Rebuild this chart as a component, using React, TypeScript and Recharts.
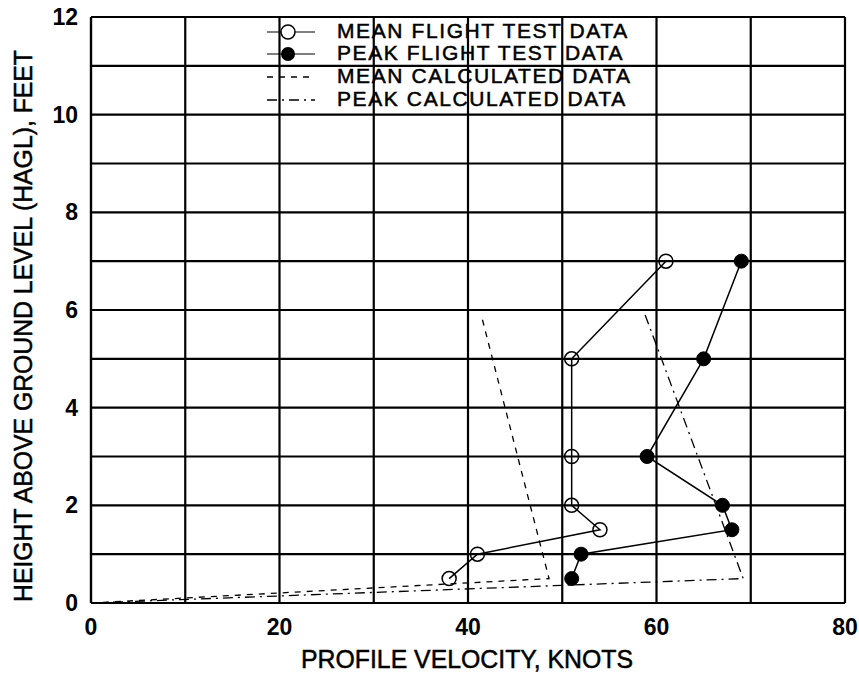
import React from 'react';
import { ComposedChart, Line, XAxis, YAxis, CartesianGrid, Legend, Label } from 'recharts';

// profile velocity (knots) against height above ground (feet)
const meanFlightV = [38, 41, 54, 51, 51, 51, 61];
const meanFlightH = [0.5, 1, 1.5, 2, 3, 5, 7];
const peakFlightV = [51, 52, 68, 67, 59, 65, 69];
const peakFlightH = [0.5, 1, 1.5, 2, 3, 5, 7];
const meanCalcV = [0, 48.6, 41.4];
const meanCalcH = [0, 0.5, 5.9];
const peakCalcV = [0, 69.2, 58.6];
const peakCalcH = [0, 0.5, 6.0];

const xTicks = [0, 10, 20, 30, 40, 50, 60, 70, 80];
const yTicks = [0, 1, 2, 3, 4, 5, 6, 7, 8, 9, 10, 11, 12];

const seriesNames = [
  'MEAN FLIGHT TEST DATA',
  'PEAK FLIGHT TEST DATA',
  'MEAN CALCULATED DATA',
  'PEAK CALCULATED DATA',
];

const toPoints = (v: number[], h: number[]) => v.map((x, i) => ({ v: x, h: h[i] }));

const FONT = '"Liberation Sans", Arial, Helvetica, sans-serif';
const DASH = '6 6';
const DASH_DOT = '10 5 2 5';

const LegendBox = () => {
  const rows = [22, 44, 67, 90];
  return (
    <svg width={400} height={110} style={{ overflow: 'visible' }}>
      {seriesNames.map((name, i) => {
        const y = rows[i];
        return (
          <g key={name}>
            {i === 0 && (
              <>
                <line x1={12} x2={60} y1={y} y2={y} stroke="#000" strokeWidth={1.2} />
                <circle cx={33} cy={y} r={7} fill="#fff" stroke="#000" strokeWidth={1.5} />
              </>
            )}
            {i === 1 && (
              <>
                <line x1={12} x2={60} y1={y} y2={y} stroke="#000" strokeWidth={1.2} />
                <circle cx={33} cy={y} r={7} fill="#000" />
              </>
            )}
            {i === 2 && (
              <line x1={12} x2={60} y1={y} y2={y} stroke="#000" strokeWidth={1.3} strokeDasharray={DASH} />
            )}
            {i === 3 && (
              <line x1={12} x2={60} y1={y} y2={y} stroke="#000" strokeWidth={1.3} strokeDasharray={DASH_DOT} />
            )}
            <text x={82} y={y + 6} fontFamily={FONT} fontSize={21} letterSpacing={1.6}
              fill="#000" stroke="#000" strokeWidth={0.5}>
              {name}
            </text>
          </g>
        );
      })}
    </svg>
  );
};

const XTitle = () => (
  <text x={467} y={668} textAnchor="middle" fontFamily={FONT} fontSize={26}
    textLength={332} lengthAdjust="spacingAndGlyphs" fill="#000" stroke="#000" strokeWidth={0.5}>
    PROFILE VELOCITY, KNOTS
  </text>
);

const YTitle = () => (
  <text x={32} y={326} transform="rotate(-90 32 326)" textAnchor="middle" fontFamily={FONT}
    fontSize={26} textLength={552} lengthAdjust="spacingAndGlyphs" fill="#000" stroke="#000" strokeWidth={0.5}>
    HEIGHT ABOVE GROUND LEVEL (HAGL), FEET
  </text>
);

const tickStyle = { fill: '#000', fontSize: 23, fontWeight: 700, fontFamily: FONT };

export default function App() {
  return (
    <div style={{ position: 'absolute', left: 0, top: 0, background: '#fff' }}>
      <ComposedChart width={859} height={675} margin={{ top: 17, right: 14, bottom: 0, left: 0 }}>
        <CartesianGrid stroke="#000" strokeWidth={2.2} />
        <XAxis
          type="number"
          dataKey="v"
          domain={[0, 80]}
          ticks={xTicks}
          tickFormatter={(t: number) => (t % 20 === 0 ? String(t) : '')}
          tick={tickStyle}
          tickLine={false}
          tickMargin={10}
          axisLine={{ stroke: '#000', strokeWidth: 2.2 }}
          height={72}
          allowDataOverflow
        >
          <Label content={<XTitle />} />
        </XAxis>
        <YAxis
          type="number"
          dataKey="h"
          domain={[0, 12]}
          ticks={yTicks}
          tickFormatter={(t: number) => (t % 2 === 0 ? String(t) : '')}
          tick={tickStyle}
          tickLine={false}
          tickMargin={7}
          axisLine={{ stroke: '#000', strokeWidth: 2.2 }}
          width={91}
          allowDataOverflow
        >
          <Label content={<YTitle />} />
        </YAxis>
        <Legend
          layout="vertical"
          verticalAlign="middle"
          align="center"
          content={<LegendBox />}
          wrapperStyle={{ position: 'absolute', left: 255, top: 10, width: 400, height: 110 }}
        />
        <Line
          data={toPoints(meanCalcV, meanCalcH)}
          dataKey="h"
          name={seriesNames[2]}
          stroke="#000"
          strokeWidth={1.3}
          strokeDasharray={DASH}
          dot={false}
          isAnimationActive={false}
        />
        <Line
          data={toPoints(peakCalcV, peakCalcH)}
          dataKey="h"
          name={seriesNames[3]}
          stroke="#000"
          strokeWidth={1.3}
          strokeDasharray={DASH_DOT}
          dot={false}
          isAnimationActive={false}
        />
        <Line
          data={toPoints(meanFlightV, meanFlightH)}
          dataKey="h"
          name={seriesNames[0]}
          stroke="#000"
          strokeWidth={1.5}
          dot={{ r: 7, fill: 'none', stroke: '#000', strokeWidth: 1.5 }}
          isAnimationActive={false}
        />
        <Line
          data={toPoints(peakFlightV, peakFlightH)}
          dataKey="h"
          name={seriesNames[1]}
          stroke="#000"
          strokeWidth={1.5}
          dot={{ r: 7, fill: '#000', stroke: '#000', strokeWidth: 1 }}
          isAnimationActive={false}
        />
      </ComposedChart>
    </div>
  );
}
